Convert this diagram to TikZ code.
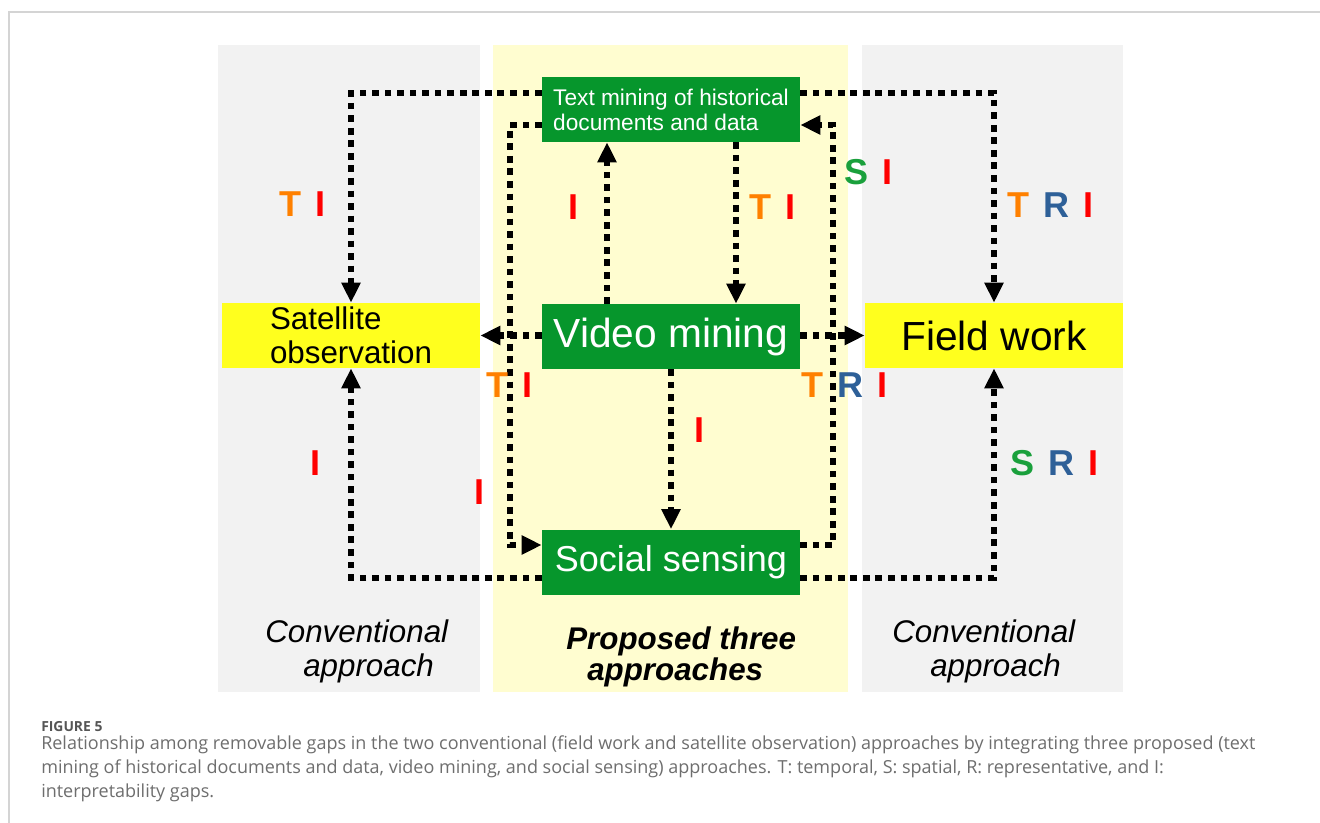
\documentclass[tikz,border=0pt]{standalone}
\usepackage{fontspec}
\setmainfont{Liberation Sans}
\newfontfamily\capfont{Open Sans}
\usetikzlibrary{arrows.meta}

\definecolor{boxgreen}{RGB}{6,150,44}
\definecolor{boxyellow}{RGB}{255,255,30}
\definecolor{panelgray}{RGB}{242,242,242}
\definecolor{panelyellow}{RGB}{255,253,208}
\definecolor{gapT}{RGB}{255,128,0}
\definecolor{gapS}{RGB}{26,160,60}
\definecolor{gapR}{RGB}{46,96,152}
\definecolor{gapI}{RGB}{255,0,0}
\definecolor{capgray}{RGB}{110,110,110}
\definecolor{figgray}{RGB}{85,85,85}
\definecolor{framegray}{RGB}{212,212,212}

\newcommand\pxu{0.75pt}
\newcommand\lT{\textcolor{gapT}{T}}
\newcommand\lS{\textcolor{gapS}{S}}
\newcommand\lR{\textcolor{gapR}{R}}
\newcommand\lI{\textcolor{gapI}{I}}
\newcommand\lsp{\hspace{0.39em}}

\tikzset{
  greenbox/.style={fill=boxgreen, text=white, inner sep=0pt,
    minimum width=258*\pxu, minimum height=65*\pxu},
  yellowbox/.style={fill=boxyellow, text=black, inner sep=0pt,
    minimum width=258*\pxu, minimum height=65*\pxu},
  link/.style={line width=5pt, dash pattern=on 5pt off 4.4pt},
  flow/.style={link, -{Triangle[length=15pt,width=13.5pt]}},
  gaplabel/.style={font=\fontsize{27}{30}\selectfont\bfseries, inner sep=0pt, anchor=west},
  sidetitle/.style={inner sep=0pt, anchor=north west, align=left},
}

\begin{document}
\begin{tikzpicture}[x=0.75pt, y=-0.75pt]
\useasboundingbox (0,0) rectangle (1320,823);
\fill[white] (0,0) rectangle (1320,823);

% card frame
\draw[framegray, line width=0.8pt] (9,830) -- (9,12) -- (1330,12);

% approach panels
\fill[panelgray] (218,45) rectangle (480,692);
\fill[panelyellow] (493,45) rectangle (848,692);
\fill[panelgray] (862,45) rectangle (1123,692);

% approaches
\node[greenbox, align=left, font=\fontsize{17}{18.75}\selectfont] (tm) at (671,109.5)
  {Text mining of historical\\documents and data};
\node[greenbox, font=\fontsize{30.5}{34}\selectfont] (vm) at (671,336.5) {Video mining};
\node[greenbox, font=\fontsize{27}{30}\selectfont] (ss) at (671,562) {Social sensing};
\node[yellowbox, align=left, font=\fontsize{23.5}{25.5}\selectfont] (sat) at (351,335.5)
  {Satellite\\observation};
\node[yellowbox, font=\fontsize{30.5}{34}\selectfont] (fw) at (994,335.5) {Field work};

% connectors from text mining
\draw[flow] (tm.west |- 0,93) -| (sat.north);
\draw[flow] (tm.east |- 0,93) -| (fw.north);
\draw[flow] (tm.south -| 736,0) -- (vm.north -| 736,0);
\draw[flow] (tm.west |- 0,125) -- (510,125) -- (510,545) -- (ss.west |- 0,545);

% connectors from video mining
\draw[flow] (vm.west |- sat.east) -- (sat.east);
\draw[flow] (vm.east |- fw.west) -- (fw.west);
\draw[flow] (vm.north -| 607,0) -- (tm.south -| 607,0);
\draw[flow] (vm.south) -- (ss.north);

% connectors from social sensing
\draw[flow] (ss.west |- 0,578) -| (sat.south);
\draw[flow] (ss.east |- 0,578) -| (fw.south);
\draw[flow] (ss.east |- 0,545) -- (833,545) -- (833,125) -- (tm.east |- 0,125);

% gap labels
\node[gaplabel] (g1) at (279,204) {\lT\lsp\lI};
\node[gaplabel] (g2) at (568,207) {\lI};
\node[gaplabel] (g3) at (749,207) {\lT\lsp\lI};
\node[gaplabel] (g4) at (844,172) {\lS\lsp\lI};
\node[gaplabel] (g5) at (1007,205) {\lT\lsp\lR\lsp\lI};
\node[gaplabel] (g6) at (486,385) {\lT\lsp\lI};
\node[gaplabel] (g7) at (801,385) {\lT\lsp\lR\lsp\lI};
\node[gaplabel] (g8) at (694,430) {\lI};
\node[gaplabel] (g9) at (310,463) {\lI};
\node[gaplabel] (g10) at (474,492) {\lI};
\node[gaplabel] (g11) at (1010,463) {\lS\lsp\lR\lsp\lI};

% panel titles
\node[sidetitle, font=\fontsize{23.5}{25.5}\selectfont\itshape] (convL) at (265,620)
  {Conventional\\\hspace*{28.5pt}approach};
\node[sidetitle, font=\fontsize{23.5}{23}\selectfont\bfseries\itshape] (prop) at (566,627)
  {Proposed three\\\hspace*{15.75pt}approaches};
\node[sidetitle, font=\fontsize{23.5}{25.5}\selectfont\itshape] (convR) at (892,620)
  {Conventional\\\hspace*{28.5pt}approach};

% caption
\node[anchor=base west, inner sep=0pt, text=figgray, font=\capfont\fontsize{10.4}{12}\selectfont\bfseries] (fig) at (41,731) {FIGURE 5};
\node[anchor=base west, inner sep=0pt, align=left, text=capgray, font=\capfont\fontsize{13.5}{18}\selectfont] (cap) at (41,797)
  {Relationship among removable gaps in the two conventional (field work and satellite observation) approaches by integrating three proposed (text\\
   mining of historical documents and data, video mining, and social sensing) approaches. T: temporal, S: spatial, R: representative, and I:\\
   interpretability gaps.};
\end{tikzpicture}
\end{document}
